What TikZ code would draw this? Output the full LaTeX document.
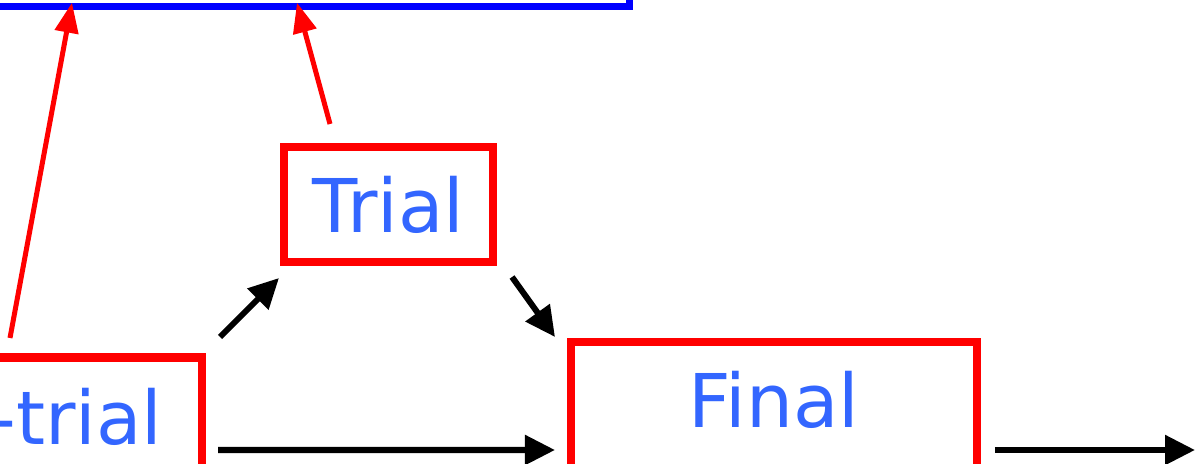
\documentclass[tikz,border=0pt]{standalone}
\usepackage{fontspec}
\setmainfont{DejaVu Sans}
\usepackage{tikz}
\usetikzlibrary{shapes,arrows.meta,calc}
\definecolor{labelblue}{RGB}{51,102,255}
\tikzstyle{stage} = [rectangle, draw=red, line width=0.2cm, inner sep=0pt,
    text=labelblue, align=center, font=\fontsize{52.7}{63}\selectfont]
\tikzstyle{flow} = [draw, line width=0.15cm, -{Triangle[length=0.75cm,width=0.72cm]}]
\tikzstyle{feed} = [draw=red, line width=0.125cm, -{Triangle[length=0.75cm,width=0.58cm]}]
\tikzstyle{court} = [rectangle, draw=blue, line width=0.175cm, inner sep=0pt]

\begin{document}
\begin{tikzpicture}[x=0.025cm, y=-0.025cm]
    \useasboundingbox (0,0) rectangle (1196,464);
    \clip (0,0) rectangle (1196,464);
    % Place nodes
    % Top box
    \node [court, minimum width=17cm, minimum height=3cm, anchor=south east] (court) at (632.5,9.7) {};
    
    % Stages
    \node [stage, minimum width=9.25cm, minimum height=2.975cm, anchor=north east] (pretrial) at (206,353.5) {Pre-trial};
    \node [stage, minimum width=5.225cm, minimum height=2.875cm] (trial) at (388.5,204.5) {Trial};
    \node [stage, minimum width=10.165cm, minimum height=5.6cm, anchor=north west,
        font=\fontsize{52.7}{66.5}\selectfont] (final) at (566.7,338) {Final\\judgment};
    \coordinate (out) at (1195,450);
    
    % Draw edges
    % Flow
    \path [flow] ($(pretrial.north east)+(14,-16.5)$) -- ($(trial.south west)+(-1,12)$);
    \path [flow] ($(trial.south east)+(15,11)$) -- ($(final.north west)+(-11.7,-1)$);
    \path [flow] ($(pretrial.north east)+(12,96.5)$) -- ($(final.north west)+(-11.7,112)$);
    \path [flow] ($(final.north east)+(13.4,112)$) -- (out);
    
    % Feedback
    \path [feed] ($(pretrial.north east)+(-196,-15.5)$) -- ($(court.south east)+(-560.5,-7)$);
    \path [feed] ($(trial.north)+(-58.5,-19)$) -- ($(court.south east)+(-335.5,-7)$);

\end{tikzpicture}
\end{document}
